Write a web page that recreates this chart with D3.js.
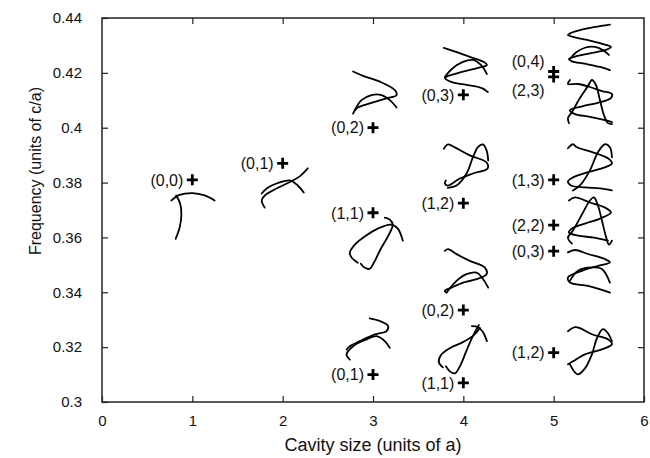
<!DOCTYPE html>
<html>
<head>
<meta charset="utf-8">
<script src="https://cdn.jsdelivr.net/npm/d3@7"></script>
<style>
  body { margin: 0; background: #fff; }
  svg { display: block; }
  text { font-family: "Liberation Sans", Arial, Helvetica, sans-serif; fill: #111; }
</style>
</head>
<body>
<div id="chart"></div>
<script>
// axis ticks
const xTicks = [0, 1, 2, 3, 4, 5, 6];
const yTicks = [0.30, 0.32, 0.34, 0.36, 0.38, 0.40, 0.42, 0.44];
const yTickLabels = ["0.3", "0.32", "0.34", "0.36", "0.38", "0.4", "0.42", "0.44"];

// mode markers: cavity size, frequency, mode label
const cavity = [1, 2, 3, 3, 3, 4, 4, 4, 4, 5, 5, 5, 5, 5, 5];
const freq = [0.381, 0.387, 0.400, 0.369, 0.310, 0.412, 0.3725, 0.3335, 0.307,
              0.4205, 0.4185, 0.381, 0.3645, 0.355, 0.318];
const modes = ["(0,0)", "(0,1)", "(0,2)", "(1,1)", "(0,1)", "(0,3)", "(1,2)", "(0,2)", "(1,1)",
               "(0,4)", "(2,3)", "(1,3)", "(2,2)", "(0,3)", "(1,2)"];
// where the label sits relative to its marker
const labelSide = ["left", "left", "left", "left", "left", "left", "left", "left", "left",
                   "above", "below", "left", "left", "left", "left"];

// field sketches: data box [x0, x1, yTop, yBottom], local extent [w, h], strokes in local units
const sketchBox = [
  [0.760, 1.258, 0.3764, 0.3592],
  [1.757, 2.289, 0.3863, 0.3705],
  [2.765, 3.275, 0.4211, 0.4049],
  [2.732, 3.341, 0.3676, 0.3482],
  [2.688, 3.197, 0.3310, 0.3152],
  [3.773, 4.283, 0.4295, 0.4126],
  [3.773, 4.283, 0.3943, 0.3778],
  [3.784, 4.283, 0.3562, 0.3394],
  [3.718, 4.272, 0.3288, 0.3097],
  [5.147, 5.656, 0.4379, 0.4207],
  [5.147, 5.656, 0.4185, 0.4002],
  [5.147, 5.656, 0.3947, 0.3764],
  [5.147, 5.656, 0.3753, 0.3570],
  [5.147, 5.656, 0.3559, 0.3394],
  [5.147, 5.656, 0.3280, 0.3097]
];
const sketchExtent = [
  [45, 47], [48, 43], [46, 44], [55, 53], [46, 43],
  [46, 46], [46, 45], [45, 46], [50, 52],
  [46, 59], [46, 50], [46, 50], [46, 50], [46, 45], [46, 50]
];
const sketchStrokes = [
  [[[0.7,8],[9,2.5],[22,0.7],[34,3],[44,8]],
   [[5.5,3],[9.5,11],[10.7,23],[9,35],[5,46.3]]],
  [[[1,28],[6,23],[19,17],[29,15],[37,20],[43,27]],
   [[4,42],[1,35],[4,30],[12,25],[26,18],[39,11],[47,3]]],
  [[[1.3,1.7],[11.3,6],[28,11.7],[43,20],[44.7,25],[34.7,28.3],[18,33.3],[4.7,38.3],[1.3,43.3]],
   [[3,40],[9.7,30],[19.7,25],[29.7,25],[38,30],[44.7,37.3]]],
  [[[36,1],[41,3],[44,8],[39,20],[32,32],[25,46],[21,52],[16,51],[12,47]],
   [[9,46],[3,41],[1,36],[7,27],[17,19],[29,12],[42,8],[49,12],[54,24]]],
  [[[25,1.3],[35,4],[43.3,9],[41.7,14],[30,17.3],[15,24],[5,29],[1.7,32.3]],
   [[5,42.3],[1.7,37.3],[8.3,29],[21.7,22.3],[31.7,19],[40,24],[45,30.7]]],
  [[[1,1],[13,5],[27,10],[41,15],[44,18],[35,21],[19,25],[5,29],[2,31],[9,35],[25,38],[39,41],[45,45]],
   [[2,30],[9,22],[20,15],[30,13],[38,18],[44,27]]],
  [[[1,5.3],[5.3,1],[12,4],[27,12],[43.7,19],[44.7,25],[30,30],[17,35],[5,42],[2,40],[3,37]],
   [[5,44.3],[13.7,42],[23.7,30],[30,14],[35,3.7],[40,1],[43.7,7],[45.3,17]]],
  [[[1,3],[4.3,1.3],[12.7,6.3],[26,13],[41,19.7],[42.7,26.3],[32.7,31.3],[19.3,34.7],[7.7,39.7],[1,43],[2.7,44.7]],
   [[2.7,44.7],[12.7,33],[22.7,26.3],[32.7,24.7],[39.3,31.3],[44.3,39.7]]],
  [[[34,3],[40,4],[45,9],[49,18]],
   [[41,2],[34,15],[28,29],[22,43],[17,50],[12,48],[8,43]],
   [[5,44],[1,39],[3,32],[12,25],[25,19],[36,12],[42,5]]],
  [[[43,1],[28,4],[13,8],[3,12],[1,14],[8,17],[23,21],[38,26],[44,29],[38,33],[23,37],[8,41],[2,44],[5,47],[18,50],[33,54],[43,58]],
   [[3,44],[9,36],[18,30],[28,29],[36,33],[42,39]]],
  [[[3,3],[1,7],[11,7],[23,10],[35,14],[45,17],[44,21],[30,26],[16,29],[3,33],[8,37],[23,39.7],[38,43],[45,45]],
   [[2,46],[1,41],[5,35],[13,21],[21,9],[25,3],[29,8],[33,23],[37,38],[41,46],[45,47]]],
  [[[1,6],[6,2],[10,5],[26,10],[41,16],[45,21],[38,25],[20,30],[6,35],[1,39],[4,43],[18,45],[33,46],[45,48]],
   [[6,48],[13,43],[23,28],[31,10],[38,2],[43,5],[45,15]]],
  [[[2,5],[8,2],[23,7],[38,12],[44,17],[33,23],[18,28],[5,33],[2,37],[11,40],[27,42],[41,45]],
   [[5,48],[1,42],[6,35],[15,19],[23,5],[27,2],[31,10],[35,25],[39,41],[42,49],[45,45]]],
  [[[1,3.7],[8,1.3],[21,5.3],[38,10.3],[43,13.7],[31,17],[15,22],[1,28.7],[3,33.7],[21,37],[38,42],[43,43.7]],
   [[3,32],[11,22],[25,18.7],[35,20.3],[43,33.7]]],
  [[[1,6],[8,2],[13,3],[25,9],[41,14],[45,19],[35,24],[18,29],[6,36],[1,39]],
   [[3,39],[8,47],[11,49],[18,43],[25,29],[30,13],[36,4],[41,8],[45,16]]]
];

const W = 650, H = 458;
const margin = {top: 18, right: 6, bottom: 56, left: 102};
const width = W - margin.left - margin.right;
const height = H - margin.top - margin.bottom;

const svg = d3.select("#chart").append("svg")
    .attr("width", W).attr("height", H);
const g = svg.append("g")
    .attr("transform", "translate(" + margin.left + "," + margin.top + ")");

const x = d3.scaleLinear().domain([0, 6]).range([0, width]);
const y = d3.scaleLinear().domain([0.30, 0.44]).range([height, 0]);

// axes, ticks pointing inward on all four sides
const xAxis = g.append("g")
    .attr("transform", "translate(0," + height + ")")
    .call(d3.axisBottom(x).tickValues(xTicks).tickFormat(d3.format("d"))
        .tickSizeInner(-6).tickSizeOuter(0).tickPadding(13));
const xTop = g.append("g")
    .call(d3.axisTop(x).tickValues(xTicks.slice(1, -1)).tickFormat("")
        .tickSizeInner(-6).tickSizeOuter(0));
const yAxis = g.append("g")
    .call(d3.axisLeft(y).tickValues(yTicks).tickFormat((d, i) => yTickLabels[i])
        .tickSizeInner(-6).tickSizeOuter(0).tickPadding(20));
const yRight = g.append("g")
    .attr("transform", "translate(" + width + ",0)")
    .call(d3.axisRight(y).tickValues(yTicks.slice(1, -1)).tickFormat("")
        .tickSizeInner(-6).tickSizeOuter(0));

[xAxis, xTop, yAxis, yRight].forEach(a => {
    a.select(".domain").remove();
    a.selectAll(".tick line").attr("stroke", "#222").attr("stroke-width", 1.2);
    a.selectAll(".tick text").style("font-size", "15px").attr("fill", "#111");
});

g.append("rect")
    .attr("width", width).attr("height", height)
    .attr("fill", "none").attr("stroke", "#222").attr("stroke-width", 1.5);

// axis titles
svg.append("text")
    .attr("x", margin.left + width / 2).attr("y", 451)
    .attr("text-anchor", "middle").style("font-size", "18px")
    .text("Cavity size (units of a)");
svg.append("text")
    .attr("transform", "translate(41,171) rotate(-90)")
    .attr("text-anchor", "middle").style("font-size", "16px")
    .text("Frequency (units of c/a)");

// mode sketches
const line = d3.line().curve(d3.curveCatmullRom.alpha(0.5));
sketchStrokes.forEach((strokes, i) => {
    const [x0, x1, yt, yb] = sketchBox[i];
    const [w, h] = sketchExtent[i];
    strokes.forEach(s => {
        const pts = s.map(p => [x(x0 + p[0] / w * (x1 - x0)), y(yt + p[1] / h * (yb - yt))]);
        g.append("path")
            .attr("d", line(pts))
            .attr("fill", "none")
            .attr("stroke", "#000")
            .attr("stroke-width", 1.8)
            .attr("stroke-linecap", "round")
            .attr("stroke-linejoin", "round");
    });
});

// markers
const marks = g.selectAll(".mode").data(cavity).enter().append("g")
    .attr("class", "mode")
    .attr("transform", (d, i) => "translate(" + x(d) + "," + y(freq[i]) + ")");
marks.append("path")
    .attr("d", "M-5.5,0H5.5M0,-5.5V5.5")
    .attr("stroke", "#000").attr("stroke-width", 2.8);
marks.append("text")
    .attr("x", -9)
    .attr("y", (d, i) => labelSide[i] === "above" ? -10 : (labelSide[i] === "below" ? 13 : 0))
    .attr("dy", "0.36em")
    .attr("text-anchor", "end")
    .style("font-size", "16px")
    .text((d, i) => modes[i]);
</script>
</body>
</html>
